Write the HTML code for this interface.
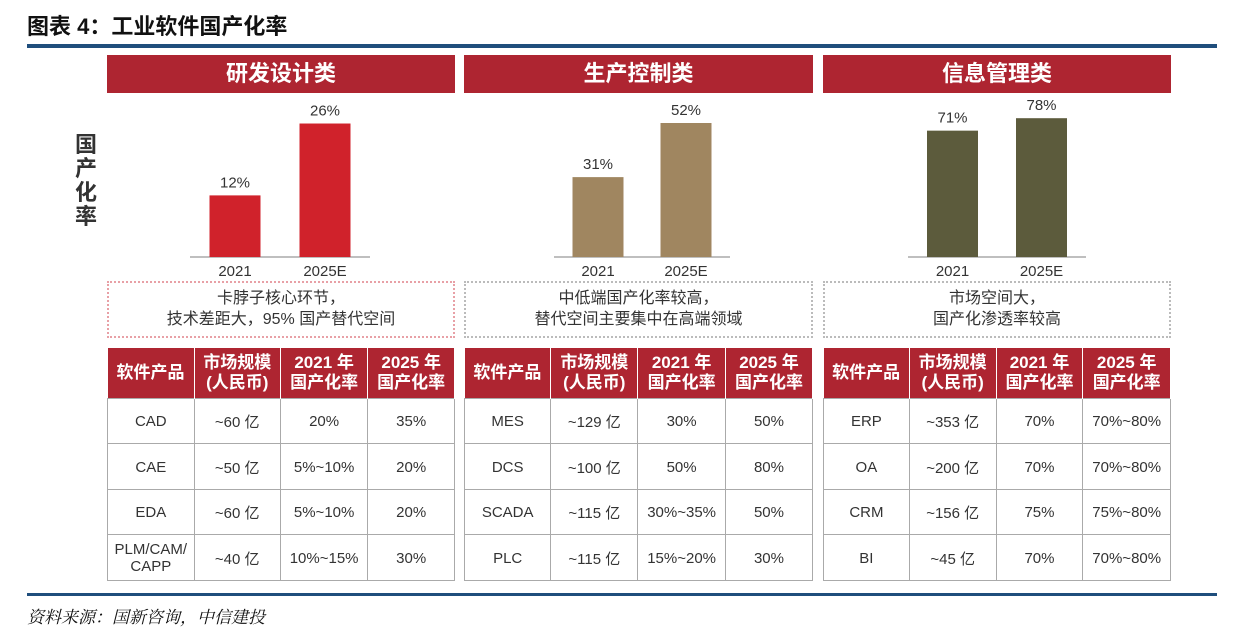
<!DOCTYPE html>
<html><head><meta charset="utf-8">
<style>
body{margin:0;background:#fff;width:1234px;height:639px;position:relative;overflow:hidden;font-family:"Liberation Sans","Noto Sans CJK SC",sans-serif;}
.a{position:absolute;}
.title{left:27px;top:9px;font-size:22px;font-weight:bold;color:#111;}
.hdr{background:#ae2531;color:#fff;font-size:22px;font-weight:bold;text-align:center;line-height:38px;height:38px;}
.box{border:2px dotted #bbb;box-sizing:border-box;text-align:center;font-size:16px;color:#333;line-height:21px;padding-top:5px;}
table{border-collapse:collapse;position:absolute;font-size:15px;color:#333;}
td{border:1px solid #aaa;text-align:center;padding:0;padding-top:2px;}
th{background:#ae2531;color:#fff;font-size:17px;font-weight:bold;line-height:20px;border-right:1px solid #fff;padding:0;}
</style></head><body>
<div class="a title">图表 4：工业软件国产化率</div>
<div class="a" style="left:27px;top:44px;width:1190px;height:4px;background:#1f4e7c"></div>
<div class="a" style="left:75px;top:133px;width:24px;font-size:22px;font-weight:bold;line-height:24px;color:#333">国产化率</div>
<svg class="a" style="left:0;top:0" width="1234" height="639" id="chart"></svg>
<div class="a" style="left:27px;top:593px;width:1190px;height:3px;background:#1f4e7c"></div>
<div class="a" style="left:27px;top:603px;font-size:17px;font-style:italic;color:#111;font-family:'Liberation Serif','Noto Serif CJK SC',serif">资料来源：国新咨询，中信建投</div>
<script>
const panelNames=["研发设计类","生产控制类","信息管理类"];
const years=["2021","2025E"];
const values1=[12,26];
const values2=[31,52];
const values3=[71,78];
const notes=[["卡脖子核心环节，","技术差距大，95% 国产替代空间"],["中低端国产化率较高，","替代空间主要集中在高端领域"],["市场空间大，","国产化渗透率较高"]];
const rows1=[["CAD","~60 亿","20%","35%"],["CAE","~50 亿","5%~10%","20%"],["EDA","~60 亿","5%~10%","20%"],["PLM/CAM/<br>CAPP","~40 亿","10%~15%","30%"]];
const rows2=[["MES","~129 亿","30%","50%"],["DCS","~100 亿","50%","80%"],["SCADA","~115 亿","30%~35%","50%"],["PLC","~115 亿","15%~20%","30%"]];
const rows3=[["ERP","~353 亿","70%","70%~80%"],["OA","~200 亿","70%","70%~80%"],["CRM","~156 亿","75%","75%~80%"],["BI","~45 亿","70%","70%~80%"]];
const headers=["软件产品","市场规模<br>(人民币)","2021 年<br>国产化率","2025 年<br>国产化率"];

const values=[values1,values2,values3], rows=[rows1,rows2,rows3];
const panelX=[107,464,823], panelW=[348,349,348];
const axisL=[190,554,908], axisR=[370,730,1086];
const yMax=[26.1,52,75.3];
const colors=["#d0222b","#a08660","#5c5b3c"];
const boxBorder=["#e8a0a6","#bbb","#bbb"];
const baseY=257, maxH=134;
const svg=document.getElementById('chart');
const NS="http://www.w3.org/2000/svg";
function yScale(p,v){return baseY - v/yMax[p]*maxH;}
function xBand(p,i){const w=axisR[p]-axisL[p];return axisL[p]+w*(i*2+1)/4;}
panelNames.forEach((nm,p)=>{
  const h=document.createElement('div');
  h.className='a hdr';h.style.left=panelX[p]+'px';h.style.top='55px';h.style.width=panelW[p]+'px';
  h.textContent=nm;
  
  
  document.body.appendChild(h);
  const ax=document.createElementNS(NS,'line');
  ax.setAttribute('x1',axisL[p]);ax.setAttribute('x2',axisR[p]);ax.setAttribute('y1',baseY);ax.setAttribute('y2',baseY);
  ax.setAttribute('stroke','#999');ax.setAttribute('stroke-width','1.2');
  
  
  svg.appendChild(ax);
  values[p].forEach((v,i)=>{
    const cx=xBand(p,i), y=yScale(p,v);
    const r=document.createElementNS(NS,'rect');
    r.setAttribute('x',cx-25.5);r.setAttribute('width',51);r.setAttribute('y',y);r.setAttribute('height',baseY-y);
    r.setAttribute('fill',colors[p]);
    
    
    svg.appendChild(r);
    const t=document.createElementNS(NS,'text');
    t.setAttribute('x',cx);t.setAttribute('y',y-8);t.setAttribute('text-anchor','middle');
    t.setAttribute('font-size','15');t.setAttribute('fill','#333');t.textContent=v+'%';
    
    
    svg.appendChild(t);
    const yl=document.createElementNS(NS,'text');
    yl.setAttribute('x',cx);yl.setAttribute('y',276);yl.setAttribute('text-anchor','middle');
    yl.setAttribute('font-size','15');yl.setAttribute('fill','#333');yl.textContent=years[i];
    
    
    svg.appendChild(yl);
  });
  const b=document.createElement('div');
  b.className='a box';b.style.left=panelX[p]+'px';b.style.top='281px';b.style.width=panelW[p]+'px';b.style.height='57px';
  b.style.borderColor=boxBorder[p];
  b.innerHTML=notes[p][0]+'<br>'+notes[p][1];
  
  
  document.body.appendChild(b);
  const tb=document.createElement('table');
  tb.style.left=panelX[p]+'px';tb.style.top='348px';tb.style.width=panelW[p]+'px';
  
  
  let html='<tr style="height:50px">'+headers.map(x=>'<th>'+x+'</th>').join('')+'</tr>';
  rows[p].forEach(r=>{html+='<tr style="height:45.5px">'+r.map((c,j)=>'<td style="width:'+(j==0?86:87)+'px;'+(c.includes('<br>')?'line-height:17px':'')+'">'+c+'</td>').join('')+'</tr>';});
  tb.innerHTML=html;
  document.body.appendChild(tb);
});
</script>
</body></html>
